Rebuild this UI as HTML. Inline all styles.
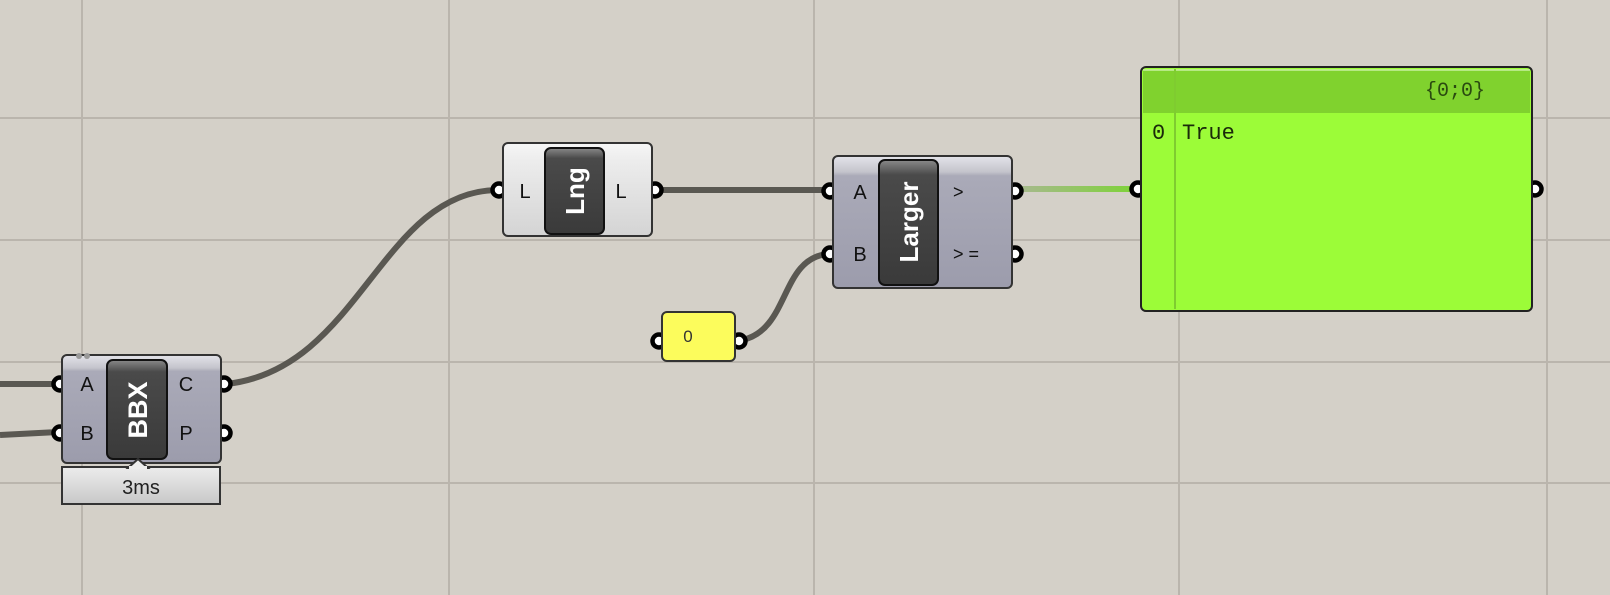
<!DOCTYPE html>
<html><head><meta charset="utf-8"><style>
html,body{margin:0;padding:0;background:#d4d0c8;}
svg{display:block}
.s{font-family:"Liberation Sans","DejaVu Sans",sans-serif;}
.m{font-family:"Liberation Mono","DejaVu Sans Mono",monospace;}
</style></head><body>
<svg width="1610" height="595" viewBox="0 0 1610 595" xmlns="http://www.w3.org/2000/svg">
<defs>
<linearGradient id="gcomp" x1="0" y1="0" x2="0" y2="1">
<stop offset="0" stop-color="#e4e4ea"/><stop offset="0.12" stop-color="#c4c4cc"/><stop offset="0.15" stop-color="#aaaab8"/><stop offset="1" stop-color="#9c9cac"/></linearGradient>
<linearGradient id="glng" x1="0" y1="0" x2="0" y2="1">
<stop offset="0" stop-color="#f6f6f6"/><stop offset="0.2" stop-color="#ececec"/><stop offset="1" stop-color="#d4d4d4"/></linearGradient>
<linearGradient id="gdark" x1="0" y1="0" x2="0" y2="1">
<stop offset="0" stop-color="#8a8a8a"/><stop offset="0.12" stop-color="#4a4a4a"/><stop offset="1" stop-color="#3a3a3a"/></linearGradient>
<linearGradient id="gwire" gradientUnits="userSpaceOnUse" x1="1016" y1="0" x2="1133" y2="0">
<stop offset="0" stop-color="#a8b890"/><stop offset="1" stop-color="#7fd23a"/></linearGradient>
<linearGradient id="glab" x1="0" y1="0" x2="0" y2="1">
<stop offset="0" stop-color="#ececec"/><stop offset="1" stop-color="#c8c8c8"/></linearGradient>
</defs>
<g stroke="#bab5ad" stroke-width="2">
<line x1="82" y1="0" x2="82" y2="595"/><line x1="449" y1="0" x2="449" y2="595"/>
<line x1="814" y1="0" x2="814" y2="595"/><line x1="1179" y1="0" x2="1179" y2="595"/>
<line x1="1547" y1="0" x2="1547" y2="595"/>
<line x1="0" y1="118" x2="1610" y2="118"/><line x1="0" y1="240" x2="1610" y2="240"/>
<line x1="0" y1="362" x2="1610" y2="362"/><line x1="0" y1="483" x2="1610" y2="483"/>
</g>
<g fill="none" stroke="#5a5852" stroke-width="6">
<path d="M0 384 L58 384"/>
<path d="M0 435 L58 432"/>
<path d="M226 384 C360 370 380 192 497 190"/>
<path d="M657 190 L828 190"/>
<path d="M742 340 C790 330 780 258 828 254"/>
</g>
<path d="M1016 189 L1133 189" stroke="url(#gwire)" stroke-width="6" fill="none"/>
<g stroke="#000" stroke-width="4.5" fill="#fff">
<circle cx="60" cy="384" r="6.5"/><circle cx="60" cy="433" r="6.5"/>
<circle cx="224" cy="384" r="6.5"/><circle cx="224" cy="433" r="6.5"/>
<circle cx="499" cy="190" r="6.5"/><circle cx="655" cy="190" r="6.5"/>
<circle cx="830" cy="191" r="6.5"/><circle cx="830" cy="254" r="6.5"/>
<circle cx="1015" cy="191" r="6.5"/><circle cx="1015" cy="254" r="6.5"/>
<circle cx="659" cy="341" r="6.5"/><circle cx="739" cy="341" r="6.5"/>
<circle cx="1138" cy="189" r="6.5"/><circle cx="1535" cy="189" r="6.5"/>
</g>
<g class="s">
<rect x="62" y="355" width="159" height="108" rx="5" fill="url(#gcomp)" stroke="#333" stroke-width="2"/>
<circle cx="79" cy="356" r="3" fill="#999"/><circle cx="87" cy="356" r="3" fill="#999"/>
<rect x="107" y="360" width="60" height="99" rx="6" fill="url(#gdark)" stroke="#111" stroke-width="2"/>
<text transform="translate(147 410) rotate(-90)" text-anchor="middle" font-size="27" font-weight="bold" fill="#fff">BBX</text>
<text x="87" y="391" text-anchor="middle" font-size="20" fill="#111">A</text>
<text x="87" y="440" text-anchor="middle" font-size="20" fill="#111">B</text>
<text x="186" y="391" text-anchor="middle" font-size="20" fill="#111">C</text>
<text x="186" y="440" text-anchor="middle" font-size="20" fill="#111">P</text>
<rect x="62" y="467" width="158" height="37" fill="url(#glab)" stroke="#333" stroke-width="2"/>
<path d="M128 468 L138 459 L148 468 Z" fill="#ececec" stroke="#333" stroke-width="2"/>
<rect x="129" y="466" width="18" height="3" fill="#ececec"/>
<text x="141" y="494" text-anchor="middle" font-size="20" fill="#222">3ms</text>
<rect x="503" y="143" width="149" height="93" rx="5" fill="url(#glng)" stroke="#333" stroke-width="2"/>
<rect x="545" y="148" width="59" height="86" rx="6" fill="url(#gdark)" stroke="#111" stroke-width="2"/>
<text transform="translate(584 191) rotate(-90)" text-anchor="middle" font-size="26" font-weight="bold" fill="#fff">Lng</text>
<text x="525" y="198" text-anchor="middle" font-size="20" fill="#111">L</text>
<text x="621" y="198" text-anchor="middle" font-size="20" fill="#111">L</text>
<rect x="833" y="156" width="179" height="132" rx="5" fill="url(#gcomp)" stroke="#333" stroke-width="2"/>
<rect x="879" y="160" width="59" height="125" rx="6" fill="url(#gdark)" stroke="#111" stroke-width="2"/>
<text transform="translate(918 222) rotate(-90)" text-anchor="middle" font-size="26" font-weight="bold" fill="#fff">Larger</text>
<text x="860" y="199" text-anchor="middle" font-size="20" fill="#111">A</text>
<text x="860" y="261" text-anchor="middle" font-size="20" fill="#111">B</text>
<text x="953" y="198" font-size="18" fill="#111">&gt;</text>
<text x="953" y="260" font-size="18" fill="#111">&gt; =</text>
<rect x="662" y="312" width="73" height="49" rx="5" fill="#fcfc5c" stroke="#333" stroke-width="2"/>
<text x="688" y="342" text-anchor="middle" font-size="17" fill="#333">0</text>
</g>
<rect x="1141" y="67" width="391" height="244" rx="5" fill="#9cfc38" stroke="#222" stroke-width="2"/>
<rect x="1143" y="70" width="387" height="43" fill="#80d22e"/>
<line x1="1143" y1="70" x2="1530" y2="70" stroke="#c8f0a0" stroke-width="1.5"/>
<line x1="1175" y1="69" x2="1175" y2="309" stroke="#7fcc30" stroke-width="2"/>
<g class="m">
<text x="1425" y="96" font-size="20" fill="#2a4a10">{0;0}</text>
<text x="1152" y="139" font-size="22" fill="#1a2a0a">0</text>
<text x="1182" y="139" font-size="22" fill="#1a2a0a">True</text>
</g>
</svg>
</body></html>
